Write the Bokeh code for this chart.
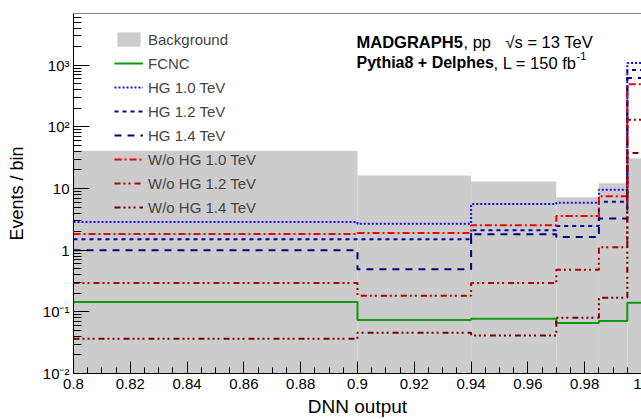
from bokeh.plotting import figure
from bokeh.models import (Legend, LegendItem, Label, Span, CustomJSTickFormatter,
                          SingleIntervalTicker, LogTicker, Range1d)
from bokeh.embed import file_html
from bokeh.resources import INLINE

# ---------------- data ----------------
edges = [0.8, 0.9, 0.94, 0.97, 0.985, 0.995, 1.0]
background = [41.0, 16.2, 13.0, 7.2, 12.2, 31.0]
fcnc = [0.145, 0.074, 0.077, 0.066, 0.071, 0.141]
hg_10 = [2.86, 2.69, 5.6, 5.9, 9.6, 1090.0]
hg_12 = [1.5, 1.5, 2.1, 2.46, 6.1, 840.0]
hg_14 = [1.0, 0.49, 1.81, 1.64, 3.28, 620.0]
wo_10 = [1.83, 1.90, 2.53, 3.57, 7.5, 490.0]
wo_12 = [0.294, 0.183, 0.294, 0.48, 1.12, 130.0]
wo_14 = [0.0367, 0.0458, 0.0415, 0.08, 0.17, 37.7]

labels = ["Background", "FCNC", "HG 1.0 TeV", "HG 1.2 TeV", "HG 1.4 TeV",
          "W/o HG 1.0 TeV", "W/o HG 1.2 TeV", "W/o HG 1.4 TeV"]
x_title = "DNN output"
y_title = "Events / bin"

FONT = "Liberation Sans"
Y_MIN, Y_MAX = 0.01, 6900.0

p = figure(width=641, height=419, output_backend="svg", toolbar_location=None,
           x_range=Range1d(0.8, 1.0), y_range=Range1d(Y_MIN, Y_MAX),
           y_axis_type="log",
           min_border_left=73, min_border_right=0, min_border_top=13,
           min_border_bottom=44)
p.outline_line_color = None
p.background_fill_color = "white"
p.border_fill_color = "white"
p.xgrid.visible = False
p.ygrid.visible = False

# background histogram
bg = p.quad(left=edges[:-1], right=edges[1:], bottom=[Y_MIN * 0.1] * len(background),
            top=background, fill_color="#cccccc", line_color=None)

def step(vals, color, dash, width=2):
    return p.step(x=edges, y=vals + [vals[-1]], mode="after", line_color=color,
                  line_width=width, line_dash=dash)

r_fcnc = step(fcnc, "#0a9a0a", "solid")
r_hg10 = step(hg_10, "#1010ff", "2 2")
r_hg12 = step(hg_12, "#0000b4", "4 4")
r_hg14 = step(hg_14, "#00007a", "7 6")
r_wo10 = step(wo_10, "#f00000", "7 3 2 3")
r_wo12 = step(wo_12, "#b00000", "6 3 2 3 2 4")
r_wo14 = step(wo_14, "#780000", "6 3 2 3 2 3 2 4")

renderers = [bg, r_fcnc, r_hg10, r_hg12, r_hg14, r_wo10, r_wo12, r_wo14]
legend = Legend(items=[LegendItem(label=l, renderers=[r]) for l, r in zip(labels, renderers)],
                location=(41, 157), padding=0, margin=0, spacing=6,
                glyph_width=29, glyph_height=18, label_height=18, label_standoff=5,
                label_text_font=FONT, label_text_font_size="15px",
                border_line_color=None, background_fill_alpha=0)
p.add_layout(legend, "center")

# axes
xa = p.xaxis[0]
xa.ticker = SingleIntervalTicker(interval=0.02, num_minor_ticks=4)
xa.formatter = CustomJSTickFormatter(code="return String(parseFloat(tick.toFixed(3)));")
xa.axis_label = x_title
ya = p.yaxis[0]
ya.ticker = LogTicker(num_minor_ticks=10)
ya.formatter = CustomJSTickFormatter(code="""
const e = Math.round(Math.log10(tick));
if (e == 0) return "1";
if (e == 1) return "10";
const sup = {"-": "\u207b", "0": "\u2070", "1": "\u00b9", "2": "\u00b2", "3": "\u00b3",
             "4": "\u2074", "5": "\u2075", "6": "\u2076", "7": "\u2077", "8": "\u2078", "9": "\u2079"};
return "10" + String(e).split("").map(c => sup[c]).join("");
""")
ya.axis_label = y_title

for ax in (xa, ya):
    ax.axis_line_color = "black"
    ax.major_tick_line_color = "black"
    ax.minor_tick_line_color = "black"
    ax.major_tick_out = 0
    ax.minor_tick_out = 0
    ax.major_label_text_font = FONT
    ax.major_label_text_font_size = "15px"
    ax.major_label_text_color = "black"
    ax.axis_label_text_font = FONT
    ax.axis_label_text_font_style = "normal"
    ax.axis_label_text_color = "black"

xa.major_tick_in = 12
xa.minor_tick_in = 6
xa.major_label_standoff = 5
xa.axis_label_text_font_size = "19px"
xa.axis_label_standoff = 4
ya.major_tick_in = 16
ya.minor_tick_in = 8
ya.major_label_standoff = 4
ya.axis_label_text_font_size = "18px"
ya.axis_label_standoff = 13

p.add_layout(Span(location=Y_MAX, dimension="width", line_color="black", line_width=1))

# texts
def lab(x, y, text, size, style="normal"):
    p.add_layout(Label(x=x, y=y, x_units="screen", y_units="screen", text=text,
                       text_font=FONT, text_font_size=size, text_font_style=style,
                       text_color="black", text_baseline="alphabetic", text_align="left"))

lab(283, 332, "MADGRAPH5", "16.5px", "bold")
lab(390, 332, ", pp", "16.5px")
lab(432, 332, "\u221as = 13 TeV", "16.5px")
lab(283, 311, "Pythia8 + Delphes", "16px", "bold")
lab(420, 311, ", L = 150 fb", "16.5px")
lab(503, 318, "-1", "11px")

open("out.html", "w").write(file_html(p, INLINE))
